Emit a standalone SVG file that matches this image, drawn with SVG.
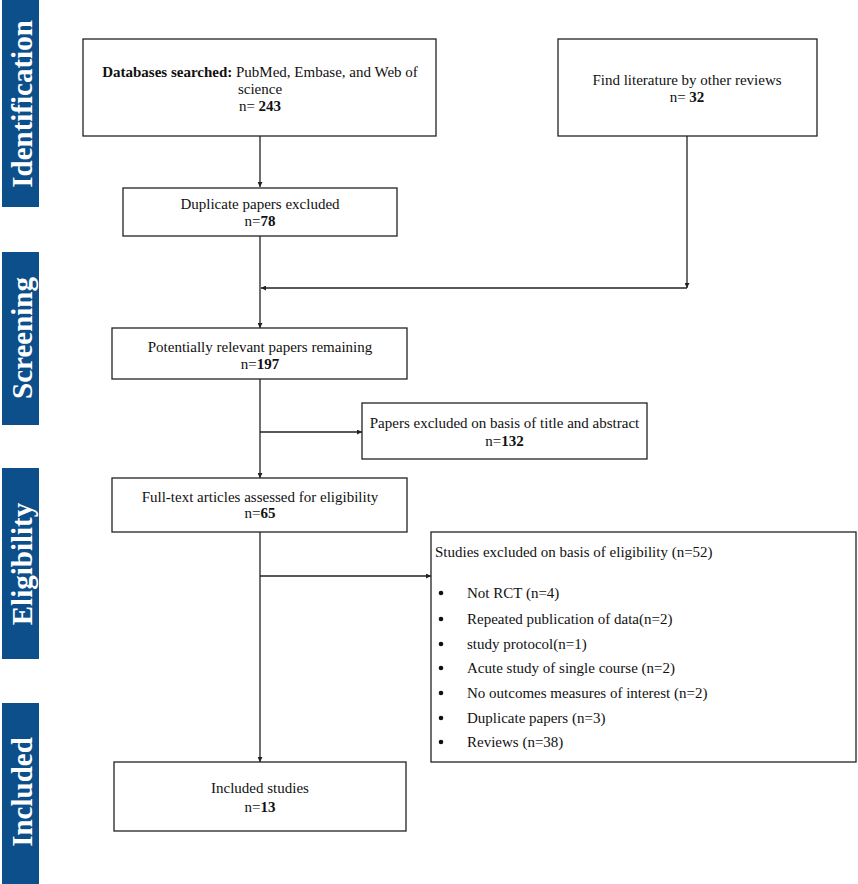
<svg xmlns="http://www.w3.org/2000/svg" width="858" height="884" viewBox="0 0 858 884">
<style>
.bar{fill:#0d4f8b}
.side{font-family:"Liberation Serif",serif;font-weight:bold;font-size:29px;fill:#fff;text-anchor:middle}
.box{fill:#fff;stroke:#222;stroke-width:1.3}
.t{font-family:"Liberation Serif",serif;font-size:15px;fill:#111}
.c{text-anchor:middle}
.b{font-weight:bold}
.ln{fill:none;stroke:#222;stroke-width:1.3}
</style>
<defs>
<marker id="ah" viewBox="0 0 10 10" refX="10" refY="5" markerWidth="5" markerHeight="5" orient="auto" markerUnits="userSpaceOnUse">
<path d="M0,0 L10,5 L0,10 z" fill="#222"/>
</marker>
</defs>
<rect width="858" height="884" fill="#fff"/>
<g id="phases">
<rect class="bar" x="2" y="0" width="37" height="207"/>
<text class="side" transform="translate(32,104) rotate(-90)">Identification</text>
<rect class="bar" x="2" y="252" width="37" height="173"/>
<text class="side" transform="translate(32,338) rotate(-90)">Screening</text>
<rect class="bar" x="2" y="468" width="37" height="191"/>
<text class="side" transform="translate(32,564) rotate(-90)">Eligibility</text>
<rect class="bar" x="2" y="703" width="37" height="181"/>
<text class="side" transform="translate(32,792) rotate(-90)">Included</text>
</g>
<g id="connectors">
<line class="ln" x1="260" y1="136" x2="260" y2="187" marker-end="url(#ah)"/>
<line class="ln" x1="260" y1="236" x2="260" y2="328" marker-end="url(#ah)"/>
<polyline class="ln" points="687,136 687,288" marker-end="url(#ah)"/>
<line class="ln" x1="687" y1="288" x2="261" y2="288" marker-end="url(#ah)"/>
<line class="ln" x1="260" y1="379" x2="260" y2="478" marker-end="url(#ah)"/>
<line class="ln" x1="260" y1="432" x2="362" y2="432" marker-end="url(#ah)"/>
<line class="ln" x1="260" y1="532" x2="260" y2="762" marker-end="url(#ah)"/>
<line class="ln" x1="260" y1="576" x2="431" y2="576" marker-end="url(#ah)"/>
</g>
<g id="databases">
<rect class="box" x="83" y="39" width="353" height="97"/>
<text class="t c" x="260" y="77"><tspan class="b">Databases searched:</tspan> PubMed, Embase, and Web of</text>
<text class="t c" x="260" y="94">science</text>
<text class="t c" x="260" y="111">n= <tspan class="b">243</tspan></text>
</g>
<g id="other-reviews">
<rect class="box" x="558" y="39" width="259" height="97"/>
<text class="t c" x="687" y="85">Find literature by other reviews</text>
<text class="t c" x="687" y="102">n= <tspan class="b">32</tspan></text>
</g>
<g id="duplicates">
<rect class="box" x="123" y="188" width="274" height="48"/>
<text class="t c" x="260" y="209">Duplicate papers excluded</text>
<text class="t c" x="260" y="226">n=<tspan class="b">78</tspan></text>
</g>
<g id="relevant">
<rect class="box" x="112" y="328" width="295" height="51"/>
<text class="t c" x="260" y="352">Potentially relevant papers remaining</text>
<text class="t c" x="260" y="369">n=<tspan class="b">197</tspan></text>
</g>
<g id="title-abstract">
<rect class="box" x="362" y="403" width="285" height="56"/>
<text class="t c" x="504.5" y="428">Papers excluded on basis of title and abstract</text>
<text class="t c" x="504.5" y="446">n=<tspan class="b">132</tspan></text>
</g>
<g id="fulltext">
<rect class="box" x="112" y="478" width="295" height="54"/>
<text class="t c" x="260" y="502">Full-text articles assessed for eligibility</text>
<text class="t c" x="260" y="518">n=<tspan class="b">65</tspan></text>
</g>
<g id="eligibility-excluded">
<rect class="box" x="431" y="532" width="425" height="230"/>
<text class="t" x="435" y="557">Studies excluded on basis of eligibility (n=52)</text>
<g fill="#111">
<circle cx="441" cy="593" r="2.3"/>
<circle cx="441" cy="619" r="2.3"/>
<circle cx="441" cy="644" r="2.3"/>
<circle cx="441" cy="668" r="2.3"/>
<circle cx="441" cy="693" r="2.3"/>
<circle cx="441" cy="718" r="2.3"/>
<circle cx="441" cy="742" r="2.3"/>
</g>
<text class="t" x="467" y="598">Not RCT (n=4)</text>
<text class="t" x="467" y="624">Repeated publication of data(n=2)</text>
<text class="t" x="467" y="649">study protocol(n=1)</text>
<text class="t" x="467" y="673">Acute study of single course (n=2)</text>
<text class="t" x="467" y="698">No outcomes measures of interest (n=2)</text>
<text class="t" x="467" y="723">Duplicate papers (n=3)</text>
<text class="t" x="467" y="747">Reviews (n=38)</text>
</g>
<g id="included">
<rect class="box" x="114" y="762" width="292" height="69"/>
<text class="t c" x="260" y="793">Included studies</text>
<text class="t c" x="260" y="812">n=<tspan class="b">13</tspan></text>
</g>
</svg>
